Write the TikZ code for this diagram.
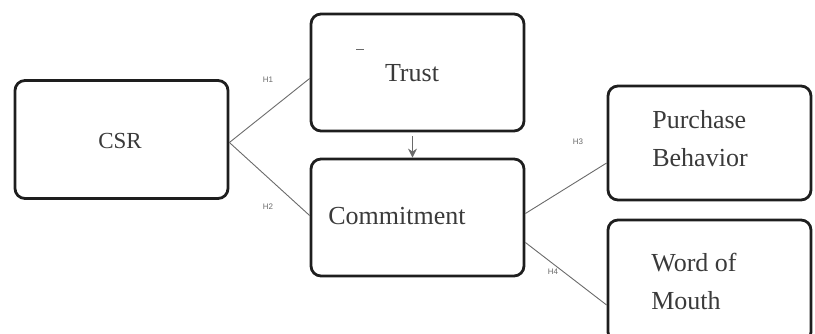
\documentclass[tikz,border=0pt]{standalone}
\usepackage{fontspec}
\setmainfont{Liberation Serif}
\setsansfont{Liberation Sans}
\usetikzlibrary{calc,arrows.meta}
\definecolor{boxline}{HTML}{1E1E1E}
\definecolor{txt}{HTML}{3A3A3A}
\definecolor{conn}{HTML}{6A6A6A}
\tikzset{
  box/.style={draw=boxline, line width=2.8pt, rounded corners=10pt, rectangle, inner sep=0pt},
  lbl/.style={text=txt, font=\fontsize{26}{38}\selectfont, inner sep=0pt, align=center},
  hyp/.style={text=conn, font=\sffamily\fontsize{8}{9}\selectfont, inner sep=0pt},
  conline/.style={draw=conn, line width=0.9pt},
}
\begin{document}
\begin{tikzpicture}[x=1pt,y=1pt]
\useasboundingbox (0,0) rectangle (815,333);
% boxes
\node[box, minimum width=213pt, minimum height=118pt] (csr) at (121.5,193.5) {};
\node[box, minimum width=213pt, minimum height=117pt] (trust) at (417.5,260.5) {};
\node[box, minimum width=213pt, minimum height=117pt] (commit) at (417.5,115.5) {};
\node[box, minimum width=203pt, minimum height=114pt] (purch) at (709.5,190) {};
\node[box, minimum width=203pt, minimum height=122pt] (wom) at (709.5,52) {};
% texts
\node[lbl, font=\fontsize{23}{28}\selectfont] (csrT) at (120,192) {CSR};
\node[lbl] (trustT) at (412,260) {Trust};
\node[lbl] (commitT) at (397,117) {Commitment};
\node[lbl, align=left] (purchT) at (700,194) {Purchase\\Behavior};
\node[lbl, align=left] (womT) at (694,52) {Word of\\Mouth};
\draw[conn, line width=0.8pt] (356,284) -- (364,284);
% connectors
\draw[conline] ($(csr.east)+(0,-3)$) -- ($(trust.west)+(0,-6)$);
\draw[conline] ($(csr.east)+(0,-3)$) -- ($(commit.west)+(0,2)$);
\draw[conline] ($(commit.east)+(0,4)$) -- ($(purch.west)+(0,-20)$);
\draw[conline] ($(commit.east)+(0,-25)$) -- ($(wom.west)+(0,-24)$);
\draw[conn, line width=0.9pt, -{Stealth[length=9pt,width=9pt]}] ($(trust.south)+(-5,-4)$) -- ($(commit.north)+(-5,0)$);
% hypothesis labels
\node[hyp] (h1) at (268,253) {H1};
\node[hyp] (h2) at (268,126) {H2};
\node[hyp] (h3) at (578,191) {H3};
\node[hyp] (h4) at (553,61) {H4};
\end{tikzpicture}
\end{document}
